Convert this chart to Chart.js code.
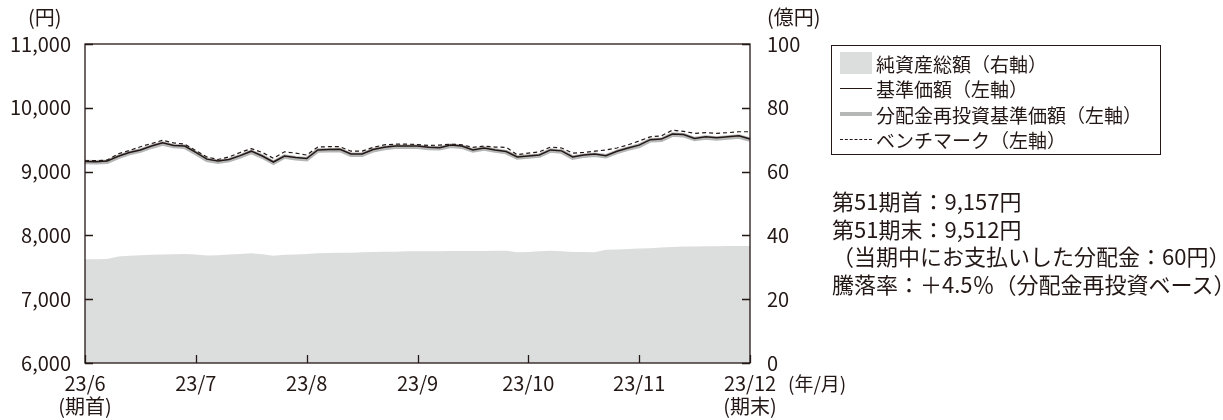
<!DOCTYPE html>
<html lang="ja">
<head>
<meta charset="UTF-8">
<title>基準価額等の推移</title>
<script src="https://cdn.jsdelivr.net/npm/chart.js@4/dist/chart.umd.min.js"></script>
<style>
    body { margin: 0; background: #fff; }
    #wrap { position: relative; width: 1223px; height: 420px; font-family: 'Noto Sans CJK JP', 'Noto Sans', sans-serif; color: #231815; }
    #chart { position: absolute; left: 0; top: 0; }
    .note { position: absolute; white-space: nowrap; line-height: 1; }
    #legend { position: absolute; left: 831px; top: 45px; width: 330px; height: 110px; border: 1.3px solid #231815; box-sizing: border-box; }
    .row { position: absolute; left: 8px; height: 24px; display: flex; align-items: center; font-size: 19px; white-space: nowrap; }
    .sw { width: 32px; margin-right: 4px; }
    #info { position: absolute; left: 832px; top: 187px; font-size: 22px; line-height: 27.7px; white-space: nowrap; }
</style>
</head>
<body>
<div id="wrap">
    <canvas id="chart" width="1223" height="420"></canvas>
    <div class="note" style="left:28px; top:7px; font-size:20px;">(円)</div>
    <div class="note" style="left:767px; top:7px; font-size:20px;">(億円)</div>
    <div class="note" style="left:788px; top:373px; font-size:19px;">(年/月)</div>
    <div id="legend"></div>
    <div id="info">
        第51期首：9,157円<br>
        第51期末：9,512円<br>
        （当期中にお支払いした分配金：60円）<br>
        騰落率：＋4.5％（分配金再投資ベース）
    </div>
</div>
<script>
    // 月ラベル(10点ごとに1か月)
    const months = ['23/6', '23/7', '23/8', '23/9', '23/10', '23/11', '23/12'];
    const monthNotes = ['(期首)', '', '', '', '', '', '(期末)'];
    const perMonth = 10;

    const seriesLabels = ['純資産総額（右軸）', '基準価額（左軸）', '分配金再投資基準価額（左軸）', 'ベンチマーク（左軸）'];

    // 基準価額(円)
    const navValues = [
        9157, 9155, 9165, 9240, 9300, 9340, 9400, 9450, 9410, 9400,
        9300, 9195, 9165, 9190, 9250, 9320, 9245, 9150, 9245, 9220,
        9205, 9340, 9345, 9350, 9275, 9275, 9345, 9380, 9400, 9400,
        9400, 9380, 9375, 9415, 9400, 9340, 9370, 9340, 9315, 9230,
        9245, 9260, 9340, 9325, 9230, 9260, 9275, 9250, 9320, 9370,
        9415, 9500, 9510, 9590, 9580, 9520, 9545, 9530, 9545, 9560,
        9512
    ];
    // 分配金再投資基準価額(円)
    const reinvestValues = [
        9150, 9147, 9155, 9230, 9290, 9330, 9390, 9440, 9400, 9390,
        9290, 9185, 9155, 9180, 9240, 9310, 9235, 9140, 9235, 9210,
        9195, 9330, 9335, 9340, 9265, 9265, 9335, 9370, 9390, 9390,
        9390, 9370, 9365, 9405, 9390, 9330, 9360, 9330, 9305, 9220,
        9235, 9250, 9330, 9315, 9220, 9250, 9265, 9240, 9310, 9360,
        9405, 9490, 9500, 9580, 9570, 9510, 9535, 9520, 9535, 9550,
        9502
    ];
    // ベンチマーク(円)
    const benchmarkValues = [
        9170, 9172, 9180, 9280, 9330, 9390, 9440, 9490, 9450, 9430,
        9330, 9230, 9190, 9230, 9300, 9360, 9300, 9210, 9310, 9290,
        9260, 9385, 9390, 9390, 9320, 9320, 9380, 9420, 9430, 9430,
        9425, 9410, 9415, 9430, 9420, 9380, 9400, 9385, 9380, 9265,
        9290, 9310, 9385, 9370, 9290, 9300, 9320, 9340, 9370, 9420,
        9480, 9545, 9560, 9650, 9630, 9600, 9610, 9600, 9610, 9625,
        9625
    ];
    // 純資産総額(億円)
    const netAssets = [
        32.5, 32.5, 32.6, 33.4, 33.6, 33.8, 33.9, 34.0, 34.1, 34.2,
        34.0, 33.7, 33.8, 34.0, 34.2, 34.4, 34.1, 33.6, 33.9, 34.0,
        34.2, 34.4, 34.5, 34.6, 34.6, 34.7, 34.8, 34.9, 34.9, 35.0,
        35.0, 35.0, 35.0, 35.1, 35.1, 35.1, 35.1, 35.2, 35.2, 34.7,
        34.8, 35.0, 35.2, 35.0, 34.8, 34.8, 34.7, 35.5, 35.6, 35.7,
        35.9, 36.0, 36.2, 36.4, 36.5, 36.5, 36.6, 36.6, 36.7, 36.7,
        36.7
    ];

    const leftMin = 6000, leftMax = 11000, leftStep = 1000;
    const rightMin = 0, rightMax = 100, rightStep = 20;

    const ink = '#231815';
    const areaColor = '#dcdddd';
    const reinvestColor = '#b5b6b6';
    const font = "'Noto Sans CJK JP', 'Noto Sans', sans-serif";

    const labels = navValues.map((v, i) => i);

    // 枠と内向きの目盛り
    const framePlugin = {
        id: 'frame',
        afterDatasetsDraw(chart) {
            const { ctx, chartArea: a, scales } = chart;
            ctx.save();
            ctx.strokeStyle = ink;
            ctx.lineWidth = 1.3;
            ctx.strokeRect(a.left, a.top, a.width, a.height);
            ctx.beginPath();
            months.forEach((m, k) => {
                const x = Math.round(scales.x.getPixelForValue(k * perMonth)) + 0.5;
                ctx.moveTo(x, a.bottom);
                ctx.lineTo(x, a.bottom - 8);
            });
            scales.y.ticks.forEach(t => {
                const y = Math.round(scales.y.getPixelForValue(t.value)) + 0.5;
                ctx.moveTo(a.left, y);
                ctx.lineTo(a.left + 8, y);
            });
            scales.y2.ticks.forEach(t => {
                const y = Math.round(scales.y2.getPixelForValue(t.value)) + 0.5;
                ctx.moveTo(a.right, y);
                ctx.lineTo(a.right - 8, y);
            });
            ctx.stroke();
            ctx.restore();
        }
    };

    const chart = new Chart(document.getElementById('chart'), {
        type: 'line',
        data: {
            labels: labels,
            datasets: [
                {
                    label: seriesLabels[3], data: benchmarkValues, yAxisID: 'y', order: 0,
                    borderColor: ink, borderWidth: 1.2, borderDash: [4, 3], pointRadius: 0, fill: false
                },
                {
                    label: seriesLabels[1], data: navValues, yAxisID: 'y', order: 1,
                    borderColor: ink, borderWidth: 1.5, pointRadius: 0, fill: false
                },
                {
                    label: seriesLabels[2], data: reinvestValues, yAxisID: 'y', order: 2,
                    borderColor: reinvestColor, borderWidth: 4.5, pointRadius: 0, fill: false
                },
                {
                    label: seriesLabels[0], data: netAssets, yAxisID: 'y2', order: 3,
                    borderWidth: 0, backgroundColor: areaColor, pointRadius: 0, fill: 'start'
                }
            ]
        },
        options: {
            responsive: false,
            animation: false,
            layout: { padding: { top: 44, left: 0, right: 0, bottom: 0 } },
            plugins: { legend: { display: false }, tooltip: { enabled: false } },
            scales: {
                x: {
                    type: 'category',
                    offset: false,
                    grid: { display: false, drawTicks: false },
                    border: { display: false },
                    afterFit(s) { s.height = 57; },
                    ticks: {
                        autoSkip: false, maxRotation: 0, padding: 9,
                        color: ink,
                        font: { family: font, size: 20, lineHeight: 1.15 },
                        callback: (v, i) => i % perMonth === 0 ? [months[i / perMonth], monthNotes[i / perMonth]] : ''
                    }
                },
                y: {
                    position: 'left',
                    min: leftMin, max: leftMax,
                    grid: { display: false, drawTicks: false },
                    border: { display: false },
                    afterFit(s) { s.width = 85; },
                    ticks: {
                        stepSize: leftStep, padding: 14, color: ink,
                        font: { family: font, size: 20 },
                        callback: v => v.toLocaleString('en-US')
                    }
                },
                y2: {
                    position: 'right',
                    min: rightMin, max: rightMax,
                    grid: { display: false, drawTicks: false },
                    border: { display: false },
                    afterFit(s) { s.width = 1223 - 750; },
                    ticks: {
                        stepSize: rightStep, padding: 17, color: ink,
                        font: { family: font, size: 20 }
                    }
                }
            }
        },
        plugins: [framePlugin]
    });

    // 凡例
    const legend = document.getElementById('legend');
    const swatches = [
        '<div class="sw" style="height:22px;background:' + areaColor + '"></div>',
        '<div class="sw" style="border-top:1.4px solid ' + ink + '"></div>',
        '<div class="sw" style="border-top:4.5px solid ' + reinvestColor + '"></div>',
        '<div class="sw" style="border-top:1.3px dashed ' + ink + '"></div>'
    ];
    seriesLabels.forEach((name, i) => {
        const row = document.createElement('div');
        row.className = 'row';
        row.style.top = (5 + i * 25.5) + 'px';
        row.innerHTML = swatches[i] + '<span>' + name + '</span>';
        legend.appendChild(row);
    });
</script>
</body>
</html>
